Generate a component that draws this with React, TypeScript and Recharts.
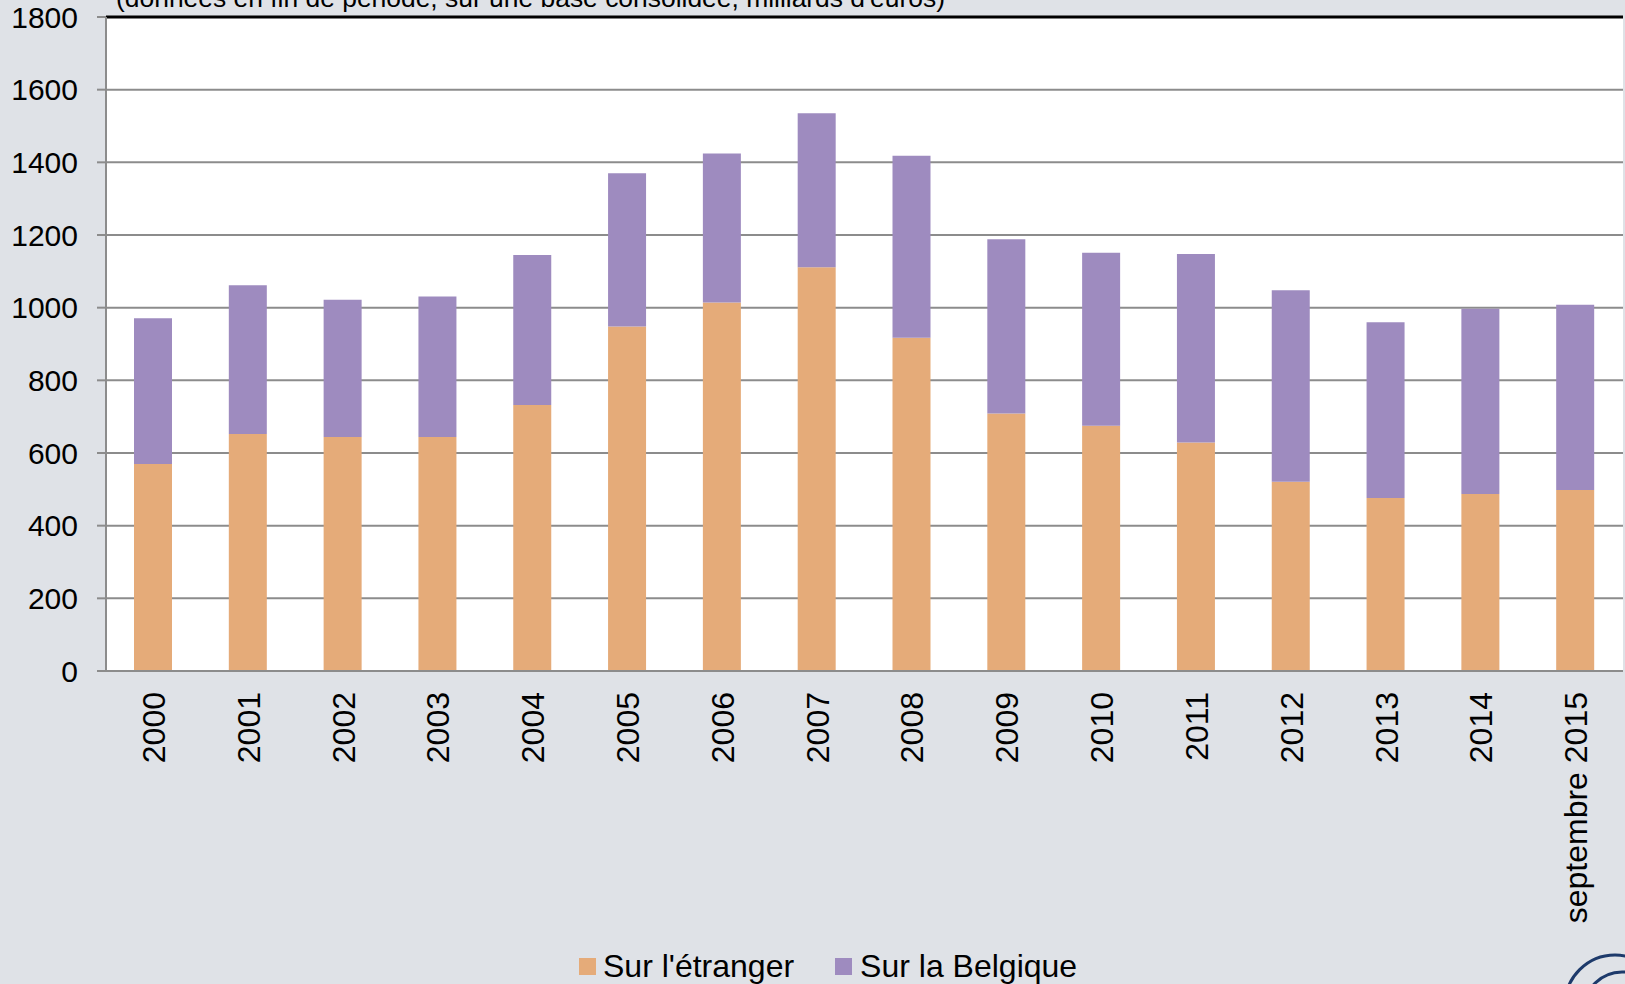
import React from "react";
import {
  BarChart,
  Bar,
  XAxis,
  YAxis,
  CartesianGrid,
  ReferenceLine,
} from "recharts";

const categories = [
  "2000", "2001", "2002", "2003", "2004", "2005", "2006", "2007",
  "2008", "2009", "2010", "2011", "2012", "2013", "2014", "septembre 2015",
];
const etranger = [570, 652, 644, 644, 732, 948, 1014, 1111, 917, 709, 675, 629, 521, 476, 487, 498];
const belgique = [401, 410, 378, 387, 413, 422, 410, 424, 501, 479, 476, 519, 527, 484, 510, 510];
const yTicks = [0, 200, 400, 600, 800, 1000, 1200, 1400, 1600, 1800];
const boundaryTicks = [0, 1, 2, 3, 4, 5, 6, 7, 8, 9, 10, 11, 12, 13, 14, 15, 16];

const seriesNames = { etranger: "Sur l'étranger", belgique: "Sur la Belgique" };
const title = "(données en fin de période, sur une base consolidée, milliards d'euros)";

const data = categories.map((c, i) => ({
  year: c,
  etranger: etranger[i],
  belgique: belgique[i],
}));

const ORANGE = "#E5AB79";
const PURPLE = "#9E8BBF";
const BG = "#DFE2E7";
const GRID = "#8C8C8C";
const FONT = "'Liberation Sans', Arial, sans-serif";

const XTick = (props: any) => {
  const { x, y, payload } = props;
  return (
    <text
      transform={`translate(${x},${y + 13}) rotate(-90)`}
      textAnchor="end"
      dy="0.36em"
      fontSize={32}
      fontFamily={FONT}
      fill="#000"
    >
      {payload.value}
    </text>
  );
};

export default function App() {
  return (
    <div
      style={{
        position: "absolute",
        left: 0,
        top: 0,
        width: 1625,
        height: 984,
        background: BG,
        overflow: "hidden",
        fontFamily: FONT,
      }}
    >
      <BarChart
        width={1625}
        height={984}
        data={data}
        margin={{ top: 17, right: 2, left: 0, bottom: 0 }}
        barSize={38}
      >
        <CartesianGrid
          vertical={false}
          fill="#FFFFFF"
          stroke={GRID}
          strokeWidth={2}
        />
        <XAxis
          xAxisId="bnd"
          type="number"
          domain={[0, 16]}
          ticks={boundaryTicks}
          tick={false}
          tickSize={9}
          tickLine={{ stroke: GRID, strokeWidth: 2 }}
          axisLine={false}
          height={0}
        />
        <XAxis
          dataKey="year"
          height={313}
          interval={0}
          tickLine={false}
          axisLine={{ stroke: GRID, strokeWidth: 2 }}
          tick={<XTick />}
        />
        <YAxis
          width={106}
          domain={[0, 1800]}
          ticks={yTicks}
          interval={0}
          tickSize={9}
          tickMargin={19}
          tickLine={{ stroke: GRID, strokeWidth: 2 }}
          axisLine={{ stroke: GRID, strokeWidth: 2 }}
          tick={{ fontSize: 30, fill: "#000", fontFamily: FONT }}
        />
        <Bar
          dataKey="etranger"
          name={seriesNames.etranger}
          stackId="a"
          fill={ORANGE}
          isAnimationActive={false}
        />
        <Bar
          dataKey="belgique"
          name={seriesNames.belgique}
          stackId="a"
          fill={PURPLE}
          isAnimationActive={false}
        />
        <ReferenceLine y={1800} stroke="#000" strokeWidth={3} />
        <ReferenceLine xAxisId="bnd" x={16} stroke="#000" strokeWidth={3} />
      </BarChart>

      <svg
        width={1625}
        height={984}
        style={{ position: "absolute", left: 0, top: 0, pointerEvents: "none" }}
      >
        <text
          x={116}
          y={7}
          fontSize={26}
          fontFamily={FONT}
          fill="#000"
          textLength={829}
          lengthAdjust="spacingAndGlyphs"
        >
          {title}
        </text>
        <circle cx={1615} cy={1005} r={50} fill="none" stroke="#1D3A6B" strokeWidth={3} />
        <circle cx={1622} cy={1010} r={38} fill="none" stroke="#1D3A6B" strokeWidth={3} />
      </svg>

      <div
        style={{
          position: "absolute",
          left: 579,
          top: 948,
          display: "flex",
          alignItems: "center",
          fontSize: 32,
          color: "#000",
          lineHeight: "36px",
        }}
      >
        <span style={{ width: 17, height: 17, background: ORANGE, display: "inline-block", marginRight: 7 }} />
        <span>{seriesNames.etranger}</span>
        <span style={{ width: 17, height: 17, background: PURPLE, display: "inline-block", marginLeft: 41, marginRight: 8 }} />
        <span>{seriesNames.belgique}</span>
      </div>
    </div>
  );
}
